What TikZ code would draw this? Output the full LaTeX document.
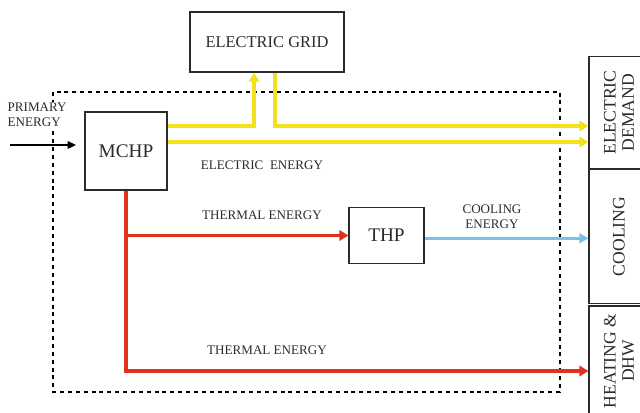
\documentclass[tikz,border=0pt]{standalone}
\usepackage{fontspec}
\setmainfont{Liberation Serif}
\usetikzlibrary{arrows.meta}
\definecolor{inkgray}{HTML}{2B2B2B}
\definecolor{elecyellow}{HTML}{F3E01C}
\definecolor{heatred}{HTML}{E0311F}
\definecolor{coolblue}{HTML}{72C4E8}
\tikzset{
  unit/.style={
    draw=inkgray,
    fill=white,
    line width=0.8pt,
    text=inkgray,
    align=center,
    inner sep=2pt
  },
  load/.style={
    unit,
    rotate=90,
    minimum height=1.5cm,
    font=\fontsize{12.5}{13}\selectfont
  },
  flowlabel/.style={text=inkgray, align=center, font=\fontsize{9.3}{10.5}\selectfont},
  boundary/.style={draw=black, line width=0.8pt, dash pattern=on 2.8pt off 2.8pt},
  elecflow/.style={draw=elecyellow, line width=2.2pt, -{Triangle[length=6.5pt,width=7.5pt]}},
  heatflow/.style={draw=heatred, line width=2.2pt, -{Triangle[length=6.5pt,width=7.5pt]}},
  coolflow/.style={draw=coolblue, line width=2pt, -{Triangle[length=6.5pt,width=7pt]}},
  fuelflow/.style={draw=black, line width=1pt, -{Triangle[length=6pt,width=5.5pt]}}
}

\begin{document}
\begin{tikzpicture}[x=0.025cm, y=-0.025cm]
  \useasboundingbox (0,0) rectangle (640,413);

  % system boundary
  \draw[boundary] (53,92) rectangle (560,392);

  \node[unit, minimum width=3.85cm, minimum height=1.5cm,
        font=\fontsize{11.7}{13}\selectfont] (grid) at (267,42) {ELECTRIC GRID};
  \node[unit, minimum width=2.05cm, minimum height=1.95cm,
        font=\fontsize{13.7}{15}\selectfont] (mchp) at (126,151) {MCHP};
  \node[unit, minimum width=1.875cm, minimum height=1.4cm,
        font=\fontsize{13.7}{15}\selectfont] (thp) at (386.5,235.5) {THP};

  % end uses on the right edge
  \node[load, minimum width=2.78cm] (demand) at (619,112.5) {ELECTRIC\\DEMAND};
  \node[load, minimum width=3.33cm] (cooling) at (619,236.5) {COOLING};
  \node[load, minimum width=2.75cm] (heating) at (619,361) {HEATING \&\\DHW};

  % lanes
  \coordinate (elane1) at (0,126);
  \coordinate (elane2) at (0,142);
  \coordinate (hotlane) at (0,371);
  \coordinate (gridin) at (254,0);
  \coordinate (gridout) at (275,0);
  \coordinate (fuel) at (10,145);

  \node[flowlabel, align=left, anchor=west, fill=white, inner sep=1pt] (primary) at (6,115) {PRIMARY\\ENERGY};
  \draw[fuelflow] (fuel) -- ([xshift=-6pt]mchp.west |- fuel);

  % electricity
  \draw[elecflow] (mchp.east |- elane1) -- (gridin |- elane1) -- (gridin |- grid.south);
  \draw[elecflow] (gridout |- grid.south) -- (gridout |- elane1) -- (elane1 -| demand.north);
  \draw[elecflow] (mchp.east |- elane2) -- (elane2 -| demand.north);
  \node[flowlabel] (elabel) at (262,165) {ELECTRIC\ \ ENERGY};

  % heat
  \draw[heatflow] (mchp.south) -- (mchp.south |- hotlane) -- (hotlane -| heating.north);
  \draw[heatflow] (mchp.south |- thp.west) -- (thp.west);
  \node[flowlabel] (hlabel1) at (262,215) {THERMAL ENERGY};
  \node[flowlabel] (hlabel2) at (267,350) {THERMAL ENERGY};

  % cooling
  \draw[coolflow] ([yshift=-2pt]thp.east) -- ([yshift=-2pt]thp.east -| cooling.north);
  \node[flowlabel] (clabel) at (492,217) {COOLING\\ENERGY};
\end{tikzpicture}
\end{document}
